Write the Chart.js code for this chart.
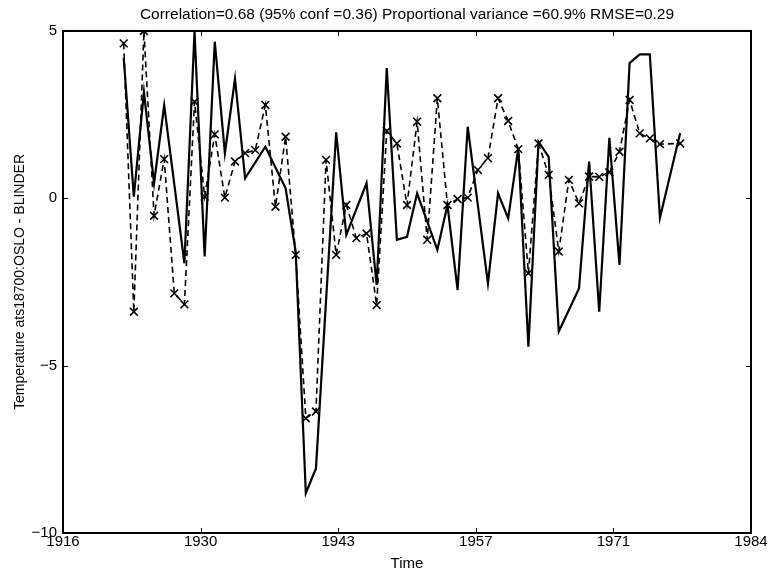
<!DOCTYPE html>
<html>
<head>
<meta charset="utf-8">
<script src="https://cdn.jsdelivr.net/npm/chart.js@4.4.1/dist/chart.umd.min.js"></script>
<style>
  html, body { margin: 0; padding: 0; background: #fff; }
  #wrap { width: 769px; height: 573px; }
</style>
</head>
<body>
<div id="wrap"><canvas id="tempChart" width="769" height="573"></canvas></div>
<script>
// Solid curve: yearly values (straight runs are left to the line itself)
const lineYears = [1922, 1923, 1924, 1925, 1926, 1928, 1929, 1930, 1931, 1932, 1933, 1934, 1936, 1938,
  1939, 1940, 1941, 1943, 1944, 1946, 1947, 1948, 1949, 1950, 1951, 1953, 1954, 1955, 1956, 1958,
  1959, 1960, 1961, 1962, 1963, 1964, 1965, 1967, 1968, 1969, 1970, 1971, 1972, 1973, 1974, 1975, 1977];
const lineValues = [4.2, 0.05, 3.17, 0.45, 2.78, -1.94, 4.98, -1.74, 4.68, 1.35, 3.57, 0.6, 1.54, 0.3,
  -1.6, -8.81, -8.07, 1.97, -1.09, 0.45, -2.59, 3.89, -1.24, -1.15, 0.15, -1.54, -0.2, -2.74, 2.14, -2.54,
  0.15, -0.6, 1.5, -4.43, 1.69, 1.24, -3.98, -2.69, 1.1, -3.39, 1.81, -1.99, 4.04, 4.3, 4.3, -0.58, 1.95];

// Dashed curve with x markers
const crossYears = [1922, 1923, 1924, 1925, 1926, 1927, 1928, 1929, 1930, 1931, 1932, 1933, 1934, 1935,
  1936, 1937, 1938, 1939, 1940, 1941, 1942, 1943, 1944, 1945, 1946, 1947, 1948, 1949, 1950, 1951,
  1952, 1953, 1954, 1955, 1956, 1957, 1958, 1959, 1960, 1961, 1962, 1963, 1964, 1965, 1966, 1967,
  1968, 1969, 1970, 1971, 1972, 1973, 1974, 1975, 1977];
const crossValues = [4.63, -3.39, 5.0, -0.52, 1.17, -2.84, -3.17, 2.89, 0.05, 1.91, 0.02, 1.10, 1.35, 1.44,
  2.79, -0.25, 1.84, -1.69, -6.57, -6.37, 1.15, -1.69, -0.20, -1.19, -1.05, -3.19, 2.01, 1.64, -0.20, 2.29,
  -1.24, 2.99, -0.20, -0.02, 0.02, 0.85, 1.20, 2.99, 2.31, 1.47, -2.24, 1.64, 0.70, -1.59, 0.55, -0.15,
  0.65, 0.64, 0.78, 1.39, 2.94, 1.94, 1.79, 1.62, 1.64];

// Axis ticks
const xTickValues = [1916, 1929.6, 1943.2, 1956.8, 1970.4, 1984];
const xTickLabels = ['1916', '1930', '1943', '1957', '1971', '1984'];
const yTickValues = [-10, -5, 0, 5];

const FONT = "'Liberation Sans', Arial, Helvetica, sans-serif";
Chart.defaults.font.family = FONT;
Chart.defaults.color = '#000';

// box around the axes plus MATLAB-style inward tick marks
const axesFrame = {
  id: 'axesFrame',
  afterDraw(chart) {
    const { ctx, chartArea: a, scales: { x, y } } = chart;
    const len = 5;
    ctx.save();
    ctx.strokeStyle = '#000';
    ctx.lineWidth = 1;
    x.ticks.forEach(t => {
      const px = Math.round(x.getPixelForValue(t.value)) + 0.5;
      ctx.beginPath();
      ctx.moveTo(px, a.bottom); ctx.lineTo(px, a.bottom - len);
      ctx.moveTo(px, a.top); ctx.lineTo(px, a.top + len);
      ctx.stroke();
    });
    y.ticks.forEach(t => {
      const py = Math.round(y.getPixelForValue(t.value)) + 0.5;
      ctx.beginPath();
      ctx.moveTo(a.left, py); ctx.lineTo(a.left + len, py);
      ctx.moveTo(a.right, py); ctx.lineTo(a.right - len, py);
      ctx.stroke();
    });
    ctx.lineWidth = 2;
    ctx.strokeRect(a.left, a.top, a.right - a.left, a.bottom - a.top);
    ctx.restore();
  }
};

const ctx = document.getElementById('tempChart').getContext('2d');

new Chart(ctx, {
  type: 'line',
  data: {
    datasets: [
      {
        data: lineYears.map((yr, i) => ({ x: yr, y: lineValues[i] })),
        borderColor: '#000',
        borderWidth: 2.2,
        pointRadius: 0,
        tension: 0,
        fill: false
      },
      {
        data: crossYears.map((yr, i) => ({ x: yr, y: crossValues[i] })),
        borderColor: '#000',
        borderWidth: 1.6,
        borderDash: [6, 4],
        pointStyle: 'crossRot',
        pointRadius: 5.5,
        pointBorderWidth: 1.6,
        pointBorderColor: '#000',
        tension: 0,
        fill: false
      }
    ]
  },
  plugins: [axesFrame],
  options: {
    responsive: false,
    animation: false,
    layout: { padding: { left: 0, right: 18, top: 0, bottom: 0 } },
    plugins: {
      legend: { display: false },
      tooltip: { enabled: false },
      title: {
        display: true,
        fullSize: false,
        text: 'Correlation=0.68 (95% conf =0.36) Proportional variance =60.9% RMSE=0.29',
        color: '#000',
        font: { family: FONT, size: 15.5, weight: 'normal', lineHeight: 1.16 },
        padding: { top: 6, bottom: 7 }
      }
    },
    scales: {
      x: {
        type: 'linear',
        min: 1916,
        max: 1984,
        grid: { display: false, drawTicks: false },
        border: { display: false },
        afterBuildTicks: scale => { scale.ticks = xTickValues.map(v => ({ value: v })); },
        afterFit: scale => { scale.height = 40; },
        ticks: {
          autoSkip: false,
          maxRotation: 0,
          padding: 0,
          font: { size: 15 },
          callback: (v, i) => xTickLabels[i]
        },
        title: {
          display: true,
          text: 'Time',
          font: { size: 15 },
          padding: { top: 0, bottom: 0 }
        }
      },
      y: {
        min: -10,
        max: 5,
        grid: { display: false, drawTicks: false },
        border: { display: false },
        afterBuildTicks: scale => { scale.ticks = yTickValues.map(v => ({ value: v })); },
        afterFit: scale => { scale.width = 63; },
        ticks: {
          padding: 6,
          font: { size: 15 },
          callback: v => (v < 0 ? '\u2212' + Math.abs(v) : String(v))
        },
        title: {
          display: true,
          text: 'Temperature ats18700:OSLO - BLINDER',
          font: { size: 14 },
          padding: { top: 12, bottom: 0 }
        }
      }
    }
  }
});
</script>
</body>
</html>
